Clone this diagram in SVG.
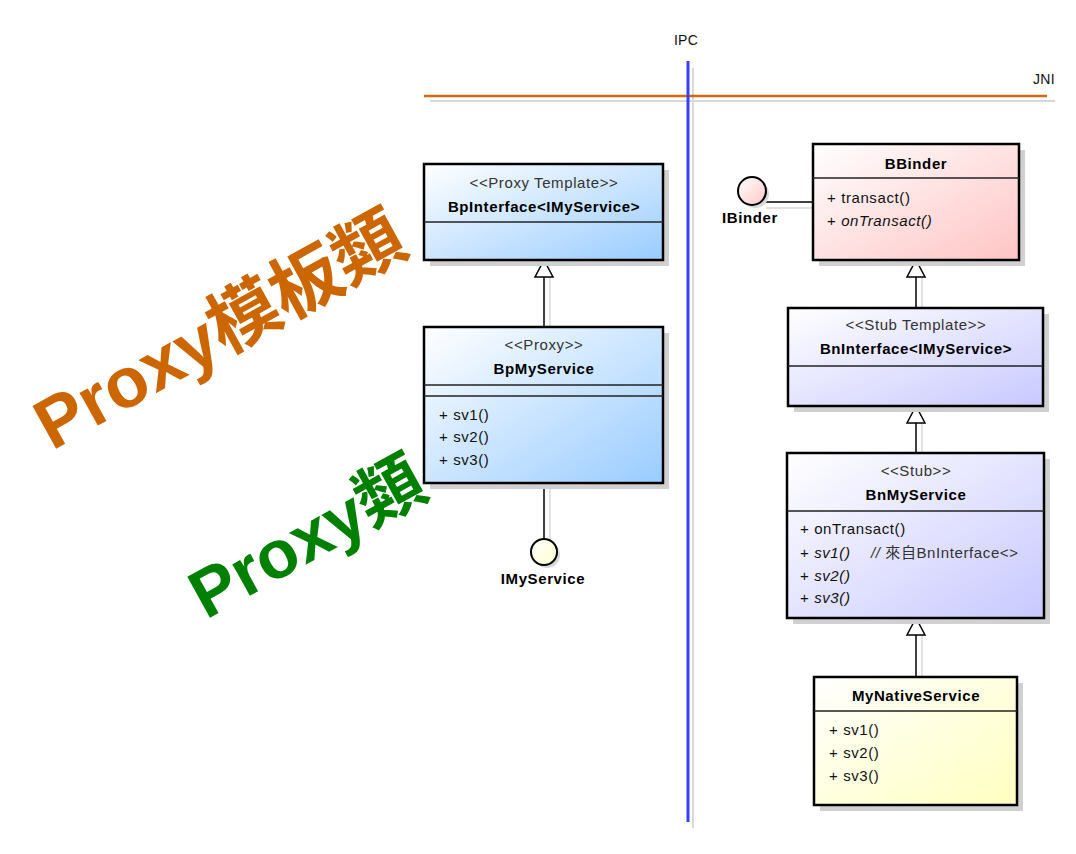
<svg xmlns="http://www.w3.org/2000/svg" width="1076" height="854" viewBox="0 0 1076 854">
<defs>
<linearGradient id="gBlue" x1="0" y1="0" x2="1" y2="1"><stop offset="0" stop-color="#FFFFFF"/><stop offset="1" stop-color="#99CCFF"/></linearGradient>
<linearGradient id="gPink" x1="0" y1="0" x2="1" y2="1"><stop offset="0" stop-color="#FFFFFF"/><stop offset="1" stop-color="#FFC4C4"/></linearGradient>
<linearGradient id="gLav" x1="0" y1="0" x2="1" y2="1"><stop offset="0" stop-color="#FFFFFF"/><stop offset="1" stop-color="#C8C8FF"/></linearGradient>
<linearGradient id="gYel" x1="0" y1="0" x2="1" y2="1"><stop offset="0" stop-color="#FFFFFF"/><stop offset="1" stop-color="#FFFFC0"/></linearGradient>
<linearGradient id="gCirY" x1="0" y1="0" x2="1" y2="1"><stop offset="0" stop-color="#FFFFFF"/><stop offset="1" stop-color="#FFFFD0"/></linearGradient>
<linearGradient id="gCirP" x1="0" y1="0" x2="1" y2="1"><stop offset="0" stop-color="#FFFFFF"/><stop offset="1" stop-color="#FFC8C8"/></linearGradient>
</defs>
<style>
text{font-family:"Liberation Sans",Arial,"Noto Sans CJK TC",sans-serif;font-size:15px;letter-spacing:0.6px;fill:#111}
.st{fill:#333;text-anchor:middle}
.nm{font-weight:bold;text-anchor:middle;fill:#000}
.it{font-style:italic}
.box{stroke:#000;stroke-width:2.5}
.sep{stroke:#222;stroke-width:1.5}
.sh{fill:#D0D0D0}
.shl{stroke:#D8D8D8;stroke-width:1.5;fill:none}
.ln{stroke:#000;stroke-width:1.5;fill:none}
.tri{fill:#FFF;stroke:#000;stroke-width:1.5}
.big{font-size:68px;font-weight:bold;letter-spacing:0;font-family:"Liberation Sans",Arial,"Noto Sans CJK TC",sans-serif}
</style>
<rect width="1076" height="854" fill="#FFFFFF"/>

<g id="boundaries">
<line x1="693" y1="68" x2="693" y2="828" stroke="#D8D8D8" stroke-width="2"/>
<line x1="430" y1="101" x2="1055" y2="101" stroke="#D8D8D8" stroke-width="2"/>
<line x1="424" y1="96" x2="1047" y2="96" stroke="#D06A10" stroke-width="2.5"/>
<line x1="688" y1="61" x2="688" y2="822" stroke="#3C3CFF" stroke-width="3"/>
<text x="686" y="45" text-anchor="middle" style="font-size:14px;letter-spacing:0.3px">IPC</text>
<text x="1044" y="84" text-anchor="middle" style="font-size:14px;letter-spacing:0.3px">JNI</text>
</g>

<g id="connectors">
<line class="shl" x1="550" y1="277" x2="550" y2="327"/>
<line class="shl" x1="550" y1="483" x2="550" y2="545"/>
<line class="shl" x1="766" y1="208" x2="813" y2="208"/>
<line class="shl" x1="922" y1="277" x2="922" y2="308"/>
<line class="shl" x1="922" y1="423" x2="922" y2="453"/>
<line class="shl" x1="922" y1="635" x2="922" y2="677"/>
<line class="ln" x1="544" y1="277" x2="544" y2="327"/>
<polygon class="tri" points="544,260 535,277 553,277"/>
<line class="ln" x1="544" y1="483" x2="544" y2="540"/>
<line class="ln" x1="758" y1="202" x2="813" y2="202"/>
<line class="ln" x1="916" y1="277" x2="916" y2="308"/>
<polygon class="tri" points="916,260 907,277 925,277"/>
<line class="ln" x1="916" y1="423" x2="916" y2="453"/>
<polygon class="tri" points="916,406 907,423 925,423"/>
<line class="ln" x1="916" y1="635" x2="916" y2="677"/>
<polygon class="tri" points="916,618 907,635 925,635"/>
</g>

<g id="BpInterface">
<rect class="sh" x="430" y="170" width="239" height="96"/>
<rect class="box" x="424" y="164" width="239" height="96" fill="url(#gBlue)"/>
<line class="sep" x1="424" y1="222" x2="663" y2="222"/>
<text class="st" x="544" y="188">&lt;&lt;Proxy Template&gt;&gt;</text>
<text class="nm" x="544" y="212">BpInterface&lt;IMyService&gt;</text>
</g>

<g id="BpMyService">
<rect class="sh" x="430" y="333" width="239" height="156"/>
<rect class="box" x="424" y="327" width="239" height="156" fill="url(#gBlue)"/>
<line class="sep" x1="424" y1="385" x2="663" y2="385"/>
<line class="sep" x1="424" y1="396" x2="663" y2="396"/>
<text class="st" x="544" y="350">&lt;&lt;Proxy&gt;&gt;</text>
<text class="nm" x="544" y="374">BpMyService</text>
<text x="439" y="420">+ sv1()</text>
<text x="439" y="442">+ sv2()</text>
<text x="439" y="465">+ sv3()</text>
</g>

<g id="IMyService">
<circle cx="547" cy="555" r="13" fill="#D8D8D8"/>
<circle cx="544" cy="552" r="13" fill="url(#gCirY)" stroke="#000" stroke-width="2"/>
<text class="nm" x="543" y="584">IMyService</text>
</g>

<g id="BBinder">
<rect class="sh" x="819" y="150" width="206" height="116"/>
<rect class="box" x="813" y="144" width="206" height="116" fill="url(#gPink)"/>
<line class="sep" x1="813" y1="178" x2="1019" y2="178"/>
<text class="nm" x="916" y="169">BBinder</text>
<text x="827" y="203">+ transact()</text>
<text x="827" y="226">+ <tspan class="it">onTransact()</tspan></text>
</g>

<g id="IBinder">
<circle cx="755" cy="194" r="14" fill="#D8D8D8"/>
<circle cx="752" cy="191" r="14" fill="url(#gCirP)" stroke="#000" stroke-width="2"/>
<text class="nm" x="750" y="223">IBinder</text>
</g>

<g id="BnInterface">
<rect class="sh" x="794" y="314" width="255" height="98"/>
<rect class="box" x="788" y="308" width="255" height="98" fill="url(#gLav)"/>
<line class="sep" x1="788" y1="366" x2="1043" y2="366"/>
<text class="st" x="916" y="330">&lt;&lt;Stub Template&gt;&gt;</text>
<text class="nm" x="916" y="354">BnInterface&lt;IMyService&gt;</text>
</g>

<g id="BnMyService">
<rect class="sh" x="793" y="459" width="257" height="165"/>
<rect class="box" x="787" y="453" width="257" height="165" fill="url(#gLav)"/>
<line class="sep" x1="787" y1="511" x2="1044" y2="511"/>
<text class="st" x="916" y="476">&lt;&lt;Stub&gt;&gt;</text>
<text class="nm" x="916" y="500">BnMyService</text>
<text x="800" y="534">+ onTransact()</text>
<text x="800" y="558">+ <tspan class="it">sv1()</tspan></text>
<text x="871" y="558" style="fill:#333"><tspan class="it">//</tspan> 來自BnInterface&lt;&gt;</text>
<text x="800" y="581">+ <tspan class="it">sv2()</tspan></text>
<text x="800" y="603">+ <tspan class="it">sv3()</tspan></text>
</g>

<g id="MyNativeService">
<rect class="sh" x="820" y="683" width="203" height="128"/>
<rect class="box" x="814" y="677" width="203" height="128" fill="url(#gYel)"/>
<line class="sep" x1="814" y1="711" x2="1017" y2="711"/>
<text class="nm" x="916" y="701">MyNativeService</text>
<text x="829" y="735">+ sv1()</text>
<text x="829" y="758">+ sv2()</text>
<text x="829" y="781">+ sv3()</text>
</g>

<g id="labels">
<text class="big" transform="translate(52,451) rotate(-29)" style="fill:#CC6600;font-size:71px">Proxy模板類</text>
<text class="big" transform="translate(206,620) rotate(-29)" style="fill:#008000">Proxy類</text>
</g>
</svg>
